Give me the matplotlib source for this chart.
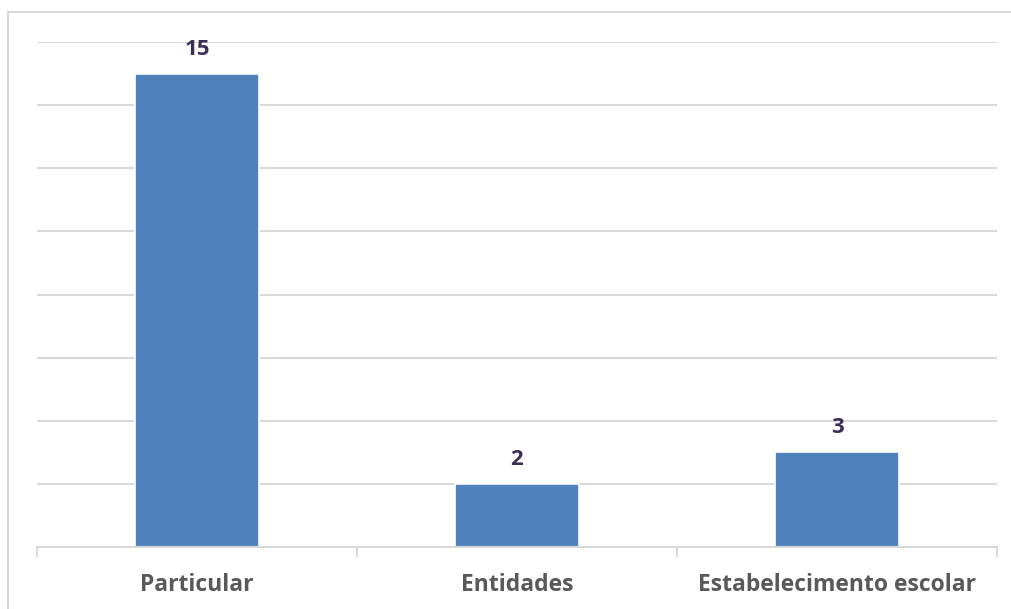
import matplotlib.pyplot as plt
from matplotlib.lines import Line2D

# -------------------------------------------------------
# Data
# -------------------------------------------------------
categories = ["Particular", "Entidades", "Estabelecimento escolar"]
values     = [15, 2, 3]

BAR_COLOR   = "#4f81bd"
LABEL_COLOR = "#3b2f57"
TICK_COLOR  = "#595959"
GRID_COLOR  = "#d9d9d9"
FONT        = ["Open Sans", "DejaVu Sans"]

W, H = 1011, 609
fig = plt.figure(figsize=(W / 100, H / 100), dpi=100)

# outer chart border: only top and left edges are inside the image
fig.add_artist(Line2D([8 / W, 1.05], [1 - 12 / H, 1 - 12 / H], color=GRID_COLOR, lw=1.5))
fig.add_artist(Line2D([8 / W, 8 / W], [-0.05, 1 - 12 / H], color=GRID_COLOR, lw=1.5))

# plot area in pixels: x 37..997, y 42..547
ax = fig.add_axes([37 / W, 1 - 547 / H, 960 / W, 505 / H])
x = list(range(len(categories)))
bars = ax.bar(x, values, width=0.385, color=BAR_COLOR, edgecolor="white",
              linewidth=1.2, zorder=3)

ax.set_xlim(-0.5, len(categories) - 0.5)
ax.set_ylim(0, 16)
ax.set_yticks(range(0, 17, 2))
ax.yaxis.grid(True, color=GRID_COLOR, linewidth=1.5, zorder=0)
ax.tick_params(axis="y", left=False, labelleft=False)

for s in ["top", "right", "left"]:
    ax.spines[s].set_visible(False)
ax.spines["bottom"].set_color(GRID_COLOR)
ax.spines["bottom"].set_linewidth(1.5)
ax.spines["bottom"].set_zorder(4)

# category boundary ticks
ax.set_xticks([i - 0.5 for i in range(len(categories) + 1)], minor=False)
ax.set_xticklabels([])
ax.tick_params(axis="x", which="major", length=7, width=1.5, color=GRID_COLOR, direction="out")
ax.set_xticks(x, minor=True)
ax.set_xticklabels(categories, minor=True, fontsize=16.5, fontweight="bold",
                   color=TICK_COLOR, family=FONT)
ax.tick_params(axis="x", which="minor", length=0, pad=19)

for b, v in zip(bars, values):
    ax.annotate(str(v), (b.get_x() + b.get_width() / 2, v), xytext=(0, 10),
                textcoords="offset points", ha="center", va="bottom",
                fontsize=16, fontweight="bold", color=LABEL_COLOR, family=FONT)

fig.savefig("out.png", dpi=100)
